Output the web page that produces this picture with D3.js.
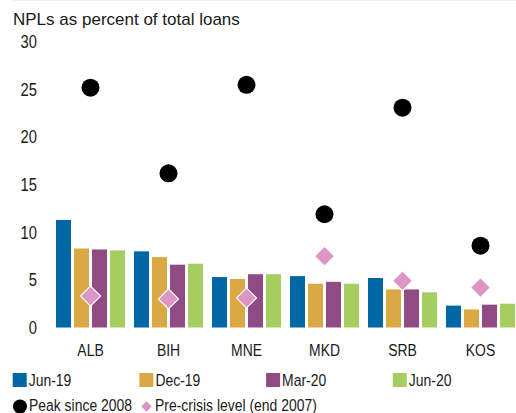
<!DOCTYPE html>
<html>
<head>
<meta charset="utf-8">
<script src="https://cdn.jsdelivr.net/npm/d3@7"></script>
<style>
  html, body { margin: 0; padding: 0; background: #fff; }
  svg { display: block; }
  text { font-family: "Liberation Sans", Arial, sans-serif; fill: #1a1a1a; }
</style>
</head>
<body>
<svg id="chart" width="516" height="413"></svg>
<script>
// NPL ratios by country and date
const countries = ["ALB", "BIH", "MNE", "MKD", "SRB", "KOS"];
const seriesNames = ["Jun-19", "Dec-19", "Mar-20", "Jun-20"];
const seriesColors = ["#0067a5", "#dba944", "#904a84", "#a5cd60"];
const jun19 = [11.3, 8.0, 5.3, 5.4, 5.2, 2.3];
const dec19 = [8.3, 7.4, 5.1, 4.6, 4.0, 1.9];
const mar20 = [8.2, 6.6, 5.6, 4.8, 4.0, 2.4];
const jun20 = [8.1, 6.7, 5.6, 4.6, 3.7, 2.5];
const peakSince2008 = [25.2, 16.2, 25.5, 11.9, 23.1, 8.6];
const preCrisis2007 = [3.3, 3.0, 3.1, 7.5, 4.9, 4.2];
const yTicks = [0, 5, 10, 15, 20, 25, 30];

const seriesValues = [jun19, dec19, mar20, jun20];
const narrow = "scale(0.82,1)";   // condensed look for labels
const svg = d3.select("#chart");

// faint rule along the top edge
svg.append("line")
  .attr("x1", 13).attr("x2", 516).attr("y1", 0.5).attr("y2", 0.5)
  .attr("stroke", "#eef2f8").attr("stroke-width", 1);

const x = d3.scaleBand().domain(countries).range([51.5, 519.5])
  .paddingInner(9 / 78).paddingOuter(4.5 / 78);
const xs = d3.scaleBand().domain(seriesNames).range([0, x.bandwidth()])
  .paddingInner(1 / 6).paddingOuter(0);
const y = d3.scaleLinear().domain([0, 30]).range([327.5, 42]);

svg.append("text")
  .attr("x", 13).attr("y", 25)
  .style("font-size", "17px")
  .text("NPLs as percent of total loans");

// y axis: labels only
const yAxis = svg.append("g").attr("transform", "translate(37,0)")
  .call(d3.axisLeft(y).tickValues(yTicks).tickSize(0).tickPadding(0));
yAxis.select(".domain").remove();
yAxis.selectAll("text").style("font-size", "18px")
  .style("font-family", "'Liberation Sans', Arial, sans-serif")
  .attr("fill", "#1a1a1a").attr("transform", narrow);

// x axis: category labels only
const xAxis = svg.append("g").attr("transform", "translate(0,344)")
  .call(d3.axisBottom(x).tickSize(0).tickPadding(0));
xAxis.select(".domain").remove();
xAxis.selectAll("text").style("font-size", "17px")
  .style("font-family", "'Liberation Sans', Arial, sans-serif")
  .attr("fill", "#1a1a1a").attr("transform", narrow);

// grouped bars
const groups = svg.append("g").selectAll("g").data(countries).join("g")
  .attr("transform", d => `translate(${x(d)},0)`);
groups.selectAll("rect")
  .data((c, ci) => seriesNames.map((s, si) => ({ s, si, v: seriesValues[si][ci] })))
  .join("rect")
  .attr("x", d => xs(d.s))
  .attr("width", xs.bandwidth())
  .attr("y", d => y(d.v))
  .attr("height", d => y(0) - y(d.v))
  .attr("fill", d => seriesColors[d.si]);

// peak markers
svg.append("g").selectAll("circle").data(countries).join("circle")
  .attr("cx", d => x(d) + x.bandwidth() / 2)
  .attr("cy", (d, i) => y(peakSince2008[i]))
  .attr("r", 9)
  .attr("fill", "#000");

// pre-crisis markers
const diamond = d3.symbol().type(d3.symbolSquare).size(200);
svg.append("g").selectAll("path").data(countries).join("path")
  .attr("d", diamond)
  .attr("transform", (d, i) => `translate(${x(d) + x.bandwidth() / 2},${y(preCrisis2007[i])}) rotate(45)`)
  .attr("fill", "#dd95c3")
  .attr("stroke", "#fff")
  .attr("stroke-width", 1.2);

// legend
const legend1 = svg.append("g").selectAll("g").data(seriesNames).join("g")
  .attr("transform", (d, i) => `translate(${12.7 + i * 126.7},373)`);
legend1.append("rect").attr("width", 14).attr("height", 14)
  .attr("fill", (d, i) => seriesColors[i]);
legend1.append("g").attr("transform", "translate(16,12.5)")
  .append("text").attr("transform", narrow)
  .style("font-size", "17px").text(d => d);

const legend2 = svg.append("g").attr("transform", "translate(0,406)");
legend2.append("circle").attr("cx", 20).attr("cy", 0.5).attr("r", 7).attr("fill", "#000");
legend2.append("g").attr("transform", "translate(29,5)")
  .append("text").attr("transform", narrow).style("font-size", "17px").text("Peak since 2008");
legend2.append("path").attr("d", d3.symbol().type(d3.symbolSquare).size(55))
  .attr("transform", "translate(146.5,0.5) rotate(45)").attr("fill", "#dd95c3");
legend2.append("g").attr("transform", "translate(155,5)")
  .append("text").attr("transform", narrow).style("font-size", "17px").text("Pre-crisis level (end 2007)");
</script>
</body>
</html>
